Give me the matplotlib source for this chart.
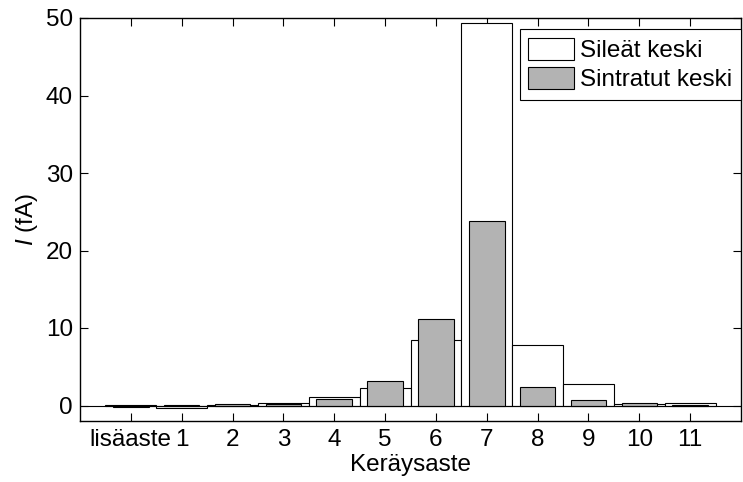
import matplotlib
matplotlib.use("Agg")
import matplotlib.pyplot as plt
import numpy as np

categories = ["lisäaste", "1", "2", "3", "4", "5", "6", "7", "8", "9", "10", "11"]
sileat = [0.1, -0.35, 0.1, 0.3, 1.15, 2.3, 8.5, 49.3, 7.75, 2.8, 0.15, 0.3]
sintratut = [-0.2, 0.1, 0.15, 0.25, 0.85, 3.2, 11.1, 23.8, 2.45, 0.65, 0.3, 0.1]
yticks = [0, 10, 20, 30, 40, 50]

plt.rcParams['font.family'] = ['Liberation Sans', 'DejaVu Sans']
plt.rcParams['mathtext.fontset'] = 'custom'
plt.rcParams['mathtext.it'] = 'Liberation Sans:italic'
plt.rcParams['mathtext.rm'] = 'Liberation Sans'

FS = 17.5

fig = plt.figure(figsize=(7.43, 4.82), dpi=100)
ax = fig.add_axes([80/743, 1-421/482, (741-80)/743, (421-18)/482])

x = np.arange(len(categories))
ax.bar(x, sileat, width=1.0, color='white', edgecolor='black', linewidth=0.8,
       label='Sileät keski', zorder=2)
ax.bar(x, sintratut, width=0.7, color='#b3b3b3', edgecolor='black', linewidth=0.8,
       label='Sintratut keski', zorder=3)
ax.axhline(0, color='black', linewidth=0.8, zorder=4)

ax.set_xlim(-1, 12)
ax.set_ylim(-2, 50)
ax.set_xticks(x)
ax.set_xticklabels(categories)
ax.set_yticks(yticks)
ax.tick_params(direction='in', top=True, right=True, labelsize=FS, length=6, width=0.8)
ax.tick_params(axis='x', pad=6)
ax.tick_params(axis='y', pad=5)
for s in ax.spines.values():
    s.set_linewidth(1.0)

ax.set_xlabel('Keräysaste', fontsize=FS, labelpad=2)
ax.set_ylabel(r'$I$ (fA)', fontsize=FS, labelpad=4)

leg = ax.legend(loc='upper right', bbox_to_anchor=(1.0, 0.972), fontsize=FS,
                frameon=True, fancybox=False, framealpha=1, edgecolor='black',
                handlelength=1.9, handleheight=1.0, handletextpad=0.25,
                borderpad=0.35, labelspacing=0.2, borderaxespad=0.0)
leg.get_frame().set_linewidth(0.8)

fig.savefig('out.png', dpi=100)
